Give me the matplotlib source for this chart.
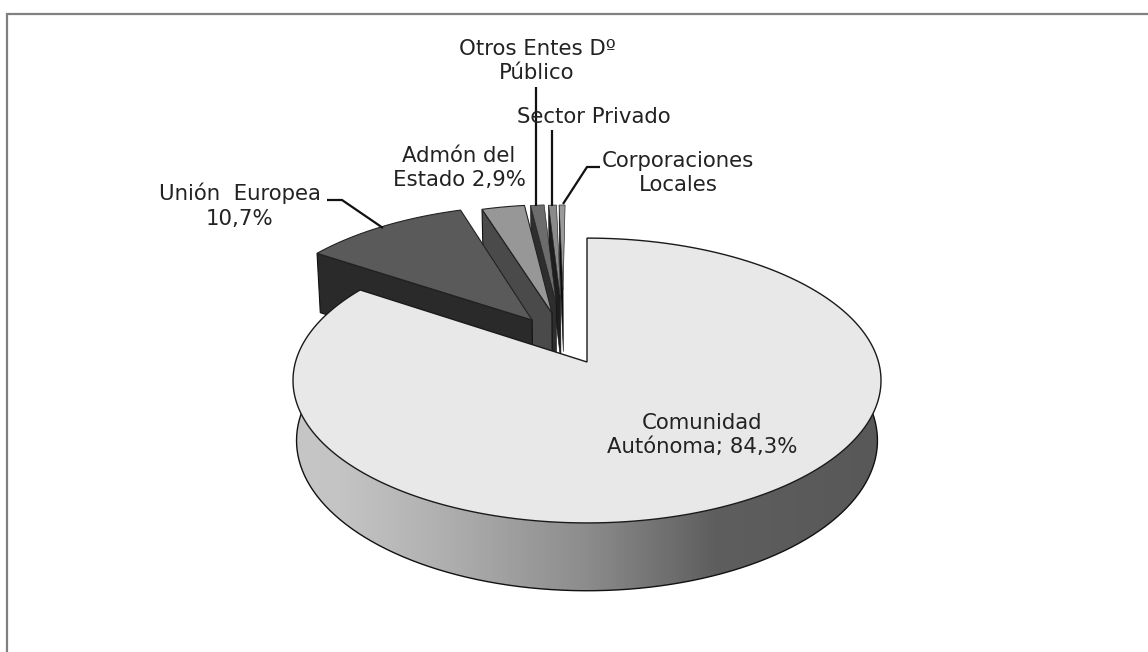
import numpy as np
import matplotlib
matplotlib.use("Agg")
import matplotlib.pyplot as plt
from matplotlib.patches import Polygon
from matplotlib.colors import LinearSegmentedColormap

# ---- data (percent shares, clockwise from 12 o'clock)
categories = ["Comunidad Autónoma", "Unión Europea", "Admón del Estado",
              "Otros Entes Dº Público", "Sector Privado", "Corporaciones Locales"]
values = [84.3, 10.7, 2.9, 1.0, 0.6, 0.5]
labels = ["Comunidad\nAutónoma; 84,3%", "Unión  Europea\n10,7%", "Admón del\nEstado 2,9%",
          "Otros Entes Dº\nPúblico", "Sector Privado", "Corporaciones\nLocales"]

# ---- styles
top_colors = ["#e8e8e8", "#5a5a5a", "#979797", "#6c6c6c", "#8a8a8a", "#9a9a9a"]
face_colors = ["#555555", "#2a2a2a", "#4a4a4a", "#2e2e2e", "#1e1e1e", "#0c0c0c"]
edge_widths = [1.0, 0.8, 0.8, 0.45, 0.45, 0.45]
explode = [(0, 0, 1.0), (-.196, -.312, 1.0), (-.126, -.367, .95),
           (-.112, -.446, .87), (-.096, -.47, .843), (-.088, -.551, .762)]
label_pos = [(702, 435), (240, 206), (459, 168), (537, 61), (594, 117), (678, 173)]
leaders = [([327, 342, 383], [200, 200, 228]),
           ([536, 536], [87, 206]),
           ([552, 552], [130, 206]),
           ([600, 587, 563], [167, 167, 204])]
grad_stops = [(0.0, "#c6c6c6"), (0.08, "#c4c4c4"), (0.25, "#b0b0b0"), (0.5, "#8c8c8c"),
              (0.72, "#5e5e5e"), (1.0, "#585858")]

CX, CY = 587.0, 362.0
RX, RY, K = 291.5, 140.0, 0.13
H, H_EX, BOT = 59.0, 66.0, 0.988
FS = 15.3

def project(u, v):
    w = 1 - K * v
    return CX + RX * u / w, CY + RY * v / w

def bottom(u, v, h=H):
    w = 1 - K * v
    return CX + BOT * RX * u / w, CY + RY * v / w + h / w

def arc(t0, t1, ex, fn=project, n=200):
    t = np.radians(np.linspace(t0, t1, n))
    du, dv, r = ex
    return fn(r * np.sin(t) + du, -r * np.cos(t) + dv)

fig = plt.figure(figsize=(11.48, 6.52), dpi=100, facecolor="white")
ax = fig.add_axes([0, 0, 1, 1])
ax.set_xlim(0, 1148)
ax.set_ylim(652, 0)
ax.axis("off")

ax.plot([7, 7, 1148], [652, 14, 14], color="#808080", lw=1.6, solid_joinstyle="miter")

edges = np.concatenate([[0], np.cumsum(values)]) / sum(values) * 360.0

# exploded slices, from the one nearest 12 o'clock back to the largest
for i in range(len(values) - 1, 0, -1):
    t0, t1 = edges[i], edges[i + 1]
    ex = explode[i]
    ou, ov = ex[2] * np.sin(np.radians(t0)) + ex[0], -ex[2] * np.cos(np.radians(t0)) + ex[1]
    au, av = ex[0], ex[1]
    face = [project(ou, ov), project(au, av), bottom(au, av, H_EX), bottom(ou, ov, H_EX)]
    ax.add_patch(Polygon(face, closed=True, fc=face_colors[i], ec="#111111",
                         lw=edge_widths[i], zorder=2 + (6 - i)))
    x, y = arc(t0, t1, ex, n=40)
    ax_, ay_ = project(au, av)
    ax.add_patch(Polygon(np.column_stack([np.r_[ax_, x], np.r_[ay_, y]]), closed=True,
                         fc=top_colors[i], ec="#222222", lw=edge_widths[i], zorder=2 + (6 - i)))

# main slice: rim with horizontal gradient
ex0 = explode[0]
t_end = edges[1]
xt, yt = arc(85, 275, ex0)
xb, yb = arc(85, 275, ex0, fn=bottom)
rim = Polygon(np.column_stack([np.r_[xt, xb[::-1]], np.r_[yt, yb[::-1]]]), closed=True,
              fc="none", ec="none", zorder=10)
ax.add_patch(rim)
cmap = LinearSegmentedColormap.from_list("rim", grad_stops)
im = ax.imshow(np.linspace(0, 1, 400)[None, :], cmap=cmap, extent=(293, 881, 600, 360),
               aspect="auto", zorder=10)
im.set_clip_path(rim)
ax.set_xlim(0, 1148)
ax.set_ylim(652, 0)
ax.plot(xb, yb, color="#111111", lw=1.0, zorder=11)

# main slice: top
x, y = arc(0, t_end, ex0, n=500)
ax.add_patch(Polygon(np.column_stack([np.r_[CX, x], np.r_[CY, y]]), closed=True,
                     fc=top_colors[0], ec="#1a1a1a", lw=edge_widths[0], zorder=12))

for lx, ly in leaders:
    ax.plot(lx, ly, color="#111111", lw=1.6, zorder=9, solid_capstyle="butt")

for txt, (x, y) in zip(labels, label_pos):
    ax.text(x, y, txt, ha="center", va="center", ma="center", fontsize=FS,
            color="#222222", family="DejaVu Sans", linespacing=1.3, zorder=20)

fig.savefig("out.png", dpi=100, facecolor="white")
